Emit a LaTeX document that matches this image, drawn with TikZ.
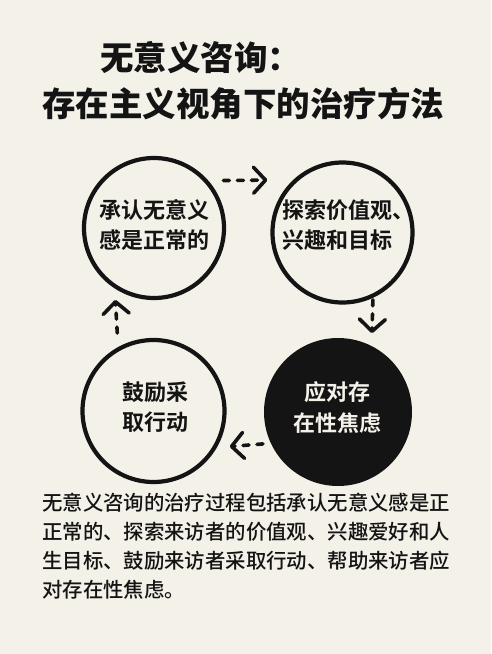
\documentclass[tikz,border=0pt]{standalone}
\usepackage{fontspec}
\usetikzlibrary{arrows.meta}
\newfontfamily\cjkm{Noto Sans CJK SC Medium}
\newfontfamily\cjkb{Noto Sans CJK SC Bold}
\newfontfamily\cjkk{Noto Sans CJK SC Black}
\definecolor{bg}{HTML}{F3F1E8}
\definecolor{ink}{HTML}{141414}
\begin{document}
\begin{tikzpicture}[x=1pt,y=-1pt,
  ring/.style={circle,draw=ink,line width=4.2pt,inner sep=0pt,outer sep=2.1pt,minimum size=140pt},
  blackring/.style={circle,fill=ink,inner sep=0pt,outer sep=0pt,minimum size=148pt},
  ctext/.style={anchor=base west,inner sep=0pt,font=\cjkb\fontsize{22}{22}\selectfont,text=ink},
  body/.style={anchor=base west,inner sep=0pt,font=\cjkm\fontsize{20.4}{20.4}\selectfont,text=ink},
  ttl/.style={anchor=base west,inner sep=0pt,font=\cjkk\fontsize{33.5}{33.5}\selectfont,text=ink},
  flow/.style={draw=ink,line width=3.6pt,line cap=round,dash pattern=on 6pt off 8pt,-{Straight Barb[length=12pt,width=26pt,round]}}]
\fill[bg] (0,0) rectangle (491,654);
\useasboundingbox (0,0) rectangle (491,654);
% title
\node[ttl] (title1) at (100,70) {无意义咨询：};
\node[ttl] (title2) at (42,116) {存在主义视角下的治疗方法};
% circles
\node[ring] (c1) at (154,228) {};
\node[ring] (c2) at (342.5,232.5) {};
\node[ring,minimum size=142pt] (c3) at (153.5,411) {};
\node[blackring] (c4) at (338,412) {};
% circle texts
\node[ctext,anchor=base] (t1a) at (154.5,218.5) {承认无意义};
\node[ctext,anchor=base] (t1b) at (154.5,248.5) {感是正常的};
\node[ctext] (t2a) at (282,218.5) {探索价值观、};
\node[ctext] (t2b) at (282,248.5) {兴趣和目标};
\node[ctext,anchor=base] (t3a) at (155,400.5) {鼓励采};
\node[ctext,anchor=base] (t3b) at (155,430.5) {取行动};
\node[ctext,anchor=base,text=bg] (t4a) at (337.5,400.5) {应对存};
\node[ctext,anchor=base,text=bg] (t4b) at (337.5,431) {在性焦虑};
% connectors
\draw[flow,shorten <=15pt,shorten >=26pt] (c1.41) -- (c2.133);
\draw[flow,shorten <=2pt,shorten >=13pt] (c2.-65) -- (c4.63);
\draw[flow,shorten <=8pt,shorten >=13pt] (c4.205) -- (c3.-30);
\draw[flow,shorten <=14pt,shorten >=11.5pt] (c3.119) -- (c1.-123);
% body text
\node[body] (b1) at (42,510.5) {无意义咨询的治疗过程包括承认无意义感是正};
\node[body] (b2) at (42,539.5) {正常的、探索来访者的价值观、兴趣爱好和人};
\node[body] (b3) at (42,568.5) {生目标、鼓励来访者采取行动、帮助来访者应};
\node[body] (b4) at (42,597.5) {对存在性焦虑。};
\end{tikzpicture}
\end{document}
